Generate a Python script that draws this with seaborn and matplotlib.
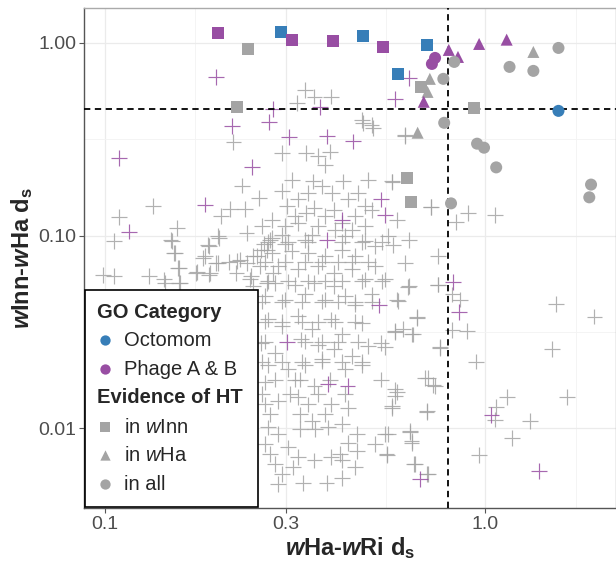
import matplotlib
matplotlib.use("Agg")
import matplotlib.pyplot as plt
from matplotlib.patches import Rectangle
import pandas as pd
import seaborn as sns

# genes with no evidence of HT (crosses): (wHa-wRi ds, wInn-wHa ds)
grey_crosses = [
    (0.218, 0.305), (0.230, 0.182), (0.254, 0.157), (0.134, 0.143), (0.109, 0.125),
    (0.202, 0.127), (0.214, 0.138), (0.234, 0.138), (0.155, 0.109), (0.200, 0.0975),
    (0.236, 0.103), (0.106, 0.0935), (0.149, 0.0953), (0.188, 0.088), (0.152, 0.0815),
    (0.196, 0.0723), (0.184, 0.078), (0.257, 0.0846), (0.223, 0.0737), (0.237, 0.0723),
    (0.157, 0.068), (0.175, 0.0646), (0.188, 0.0628), (0.106, 0.0615), (0.131, 0.062),
    (0.143, 0.0592), (0.158, 0.0569), (0.212, 0.0727), (0.262, 0.0906), (0.252, 0.078),
    (0.242, 0.0615), (0.099, 0.0625),
    (0.478, 0.383), (0.508, 0.361), (0.616, 0.334), (0.292, 0.268), (0.339, 0.268),
    (0.364, 0.258), (0.391, 0.273), (0.380, 0.233), (0.353, 0.191), (0.372, 0.180),
    (0.424, 0.191), (0.493, 0.195), (0.568, 0.191), (0.292, 0.170), (0.301, 0.142),
    (0.323, 0.154), (0.339, 0.131), (0.356, 0.139), (0.401, 0.136), (0.437, 0.154),
    (0.464, 0.166), (0.483, 0.142), (0.455, 0.126), (0.503, 0.136), (0.587, 0.121),
    (0.719, 0.141), (0.275, 0.121), (0.298, 0.112), (0.323, 0.116), (0.364, 0.112),
    (0.446, 0.107), (0.483, 0.112), (0.556, 0.0993), (0.630, 0.0953), (0.275, 0.0975),
    (0.298, 0.0906), (0.336, 0.0953), (0.428, 0.0993), (0.483, 0.0935), (0.513, 0.088),
    (0.574, 0.0898), (0.275, 0.0815), (0.310, 0.083), (0.343, 0.0815), (0.380, 0.078),
    (0.420, 0.0846), (0.455, 0.078), (0.513, 0.0693), (0.616, 0.0723), (0.753, 0.078),
    (0.286, 0.0693), (0.323, 0.0667), (0.364, 0.0693), (0.401, 0.064), (0.446, 0.0667),
    (0.483, 0.0592), (0.545, 0.0592), (0.630, 0.0546), (0.280, 0.0569), (0.316, 0.0557),
    (0.356, 0.0569), (0.401, 0.0546), (0.753, 0.0557),
    (0.336, 0.571), (0.356, 0.527), (0.394, 0.527), (0.320, 0.487), (0.474, 0.399),
    (0.503, 0.376),
    (0.264, 0.0486), (0.298, 0.0466), (0.336, 0.0495), (0.380, 0.0466), (0.428, 0.0486),
    (0.455, 0.0439), (0.503, 0.0495), (0.592, 0.0457), (0.661, 0.0375), (0.580, 0.0319),
    (0.641, 0.0307), (0.761, 0.0262), (0.269, 0.0367), (0.292, 0.0339), (0.323, 0.0383),
    (0.350, 0.0326), (0.394, 0.0367), (0.420, 0.0307), (0.474, 0.0353), (0.493, 0.0267),
    (0.534, 0.0277), (0.258, 0.0277), (0.280, 0.0247), (0.329, 0.0289), (0.364, 0.0272),
    (0.401, 0.0257), (0.446, 0.0238), (0.372, 0.0228), (0.336, 0.0212), (0.304, 0.0202),
    (0.269, 0.0212), (0.428, 0.0202), (0.474, 0.0212), (0.534, 0.0179), (0.709, 0.0182),
    (0.737, 0.0166), (0.264, 0.0173), (0.316, 0.0179), (0.356, 0.0166), (0.580, 0.0159),
    (0.264, 0.0133), (0.286, 0.0139), (0.323, 0.0145), (0.343, 0.0133), (0.394, 0.0133),
    (0.437, 0.0128), (0.580, 0.0147), (0.568, 0.0128), (0.703, 0.0123), (0.269, 0.0101),
    (0.286, 0.00931), (0.350, 0.0109), (0.387, 0.0101), (0.420, 0.0105), (0.460, 0.00931),
    (0.545, 0.00931), (0.635, 0.00966), (0.641, 0.00838), (0.513, 0.00826), (0.437, 0.00838),
    (0.460, 0.0076), (0.551, 0.00733), (0.651, 0.00651), (0.703, 0.00578), (0.264, 0.00826),
    (0.304, 0.00795), (0.323, 0.0071), (0.356, 0.00681), (0.394, 0.0071), (0.420, 0.00681),
    (0.455, 0.00626), (0.280, 0.00651), (0.292, 0.00578), (0.286, 0.00513), (0.333, 0.00522),
    (0.383, 0.00522), (0.420, 0.00553), (0.313, 0.00626),
    (0.150, 0.0935), (0.153, 0.0815), (0.199, 0.0993), (0.187, 0.0898), (0.181, 0.0765),
    (0.199, 0.0723), (0.156, 0.068), (0.174, 0.064), (0.189, 0.064), (0.144, 0.0569),
    (0.157, 0.0569), (0.227, 0.0751), (0.246, 0.078), (0.222, 0.064), (0.241, 0.0592),
    (0.246, 0.0546), (0.267, 0.0846), (0.256, 0.0693), (0.277, 0.064), (0.272, 0.0953),
    (0.267, 0.0569),
    (0.616, 0.330), (0.571, 0.190), (0.721, 0.141), (0.837, 0.118), (0.900, 0.131),
    (1.06, 0.128), (1.54, 0.0443), (1.94, 0.038), (1.50, 0.0258), (0.945, 0.0222),
    (1.14, 0.0145), (1.64, 0.0145), (1.07, 0.0129), (1.06, 0.0111), (1.31, 0.0109),
    (1.18, 0.0089), (0.966, 0.00725), (0.707, 0.00578), (0.655, 0.00651), (0.859, 0.0466),
    (0.821, 0.0495), (0.662, 0.0377), (0.898, 0.0321), (0.821, 0.0323), (0.761, 0.0263),
    (0.694, 0.0183), (0.730, 0.0167), (0.702, 0.0122), (0.635, 0.00951), (0.641, 0.00862),
    (0.556, 0.00931), (0.552, 0.00728), (0.570, 0.013), (0.586, 0.0154), (0.545, 0.0263),
    (0.586, 0.0466), (0.626, 0.0539), (0.753, 0.0557), (0.609, 0.0326), (0.580, 0.0315),
    (0.647, 0.0307),
    # dense core, second pass
    (0.268, 0.0931), (0.303, 0.0931), (0.342, 0.0931), (0.421, 0.0931), (0.474, 0.0931),
    (0.536, 0.0931),
    (0.264, 0.0733), (0.298, 0.0733), (0.336, 0.0733), (0.373, 0.0733), (0.410, 0.0733),
    (0.447, 0.0733), (0.492, 0.0733),
    (0.268, 0.0578), (0.303, 0.0578), (0.342, 0.0578), (0.380, 0.0578), (0.421, 0.0578),
    (0.474, 0.0578), (0.536, 0.0578),
    (0.259, 0.0455), (0.292, 0.0455), (0.330, 0.0455), (0.373, 0.0455), (0.410, 0.0455),
    (0.455, 0.0455), (0.504, 0.0455),
    (0.264, 0.0358), (0.292, 0.0358), (0.330, 0.0358), (0.364, 0.0358), (0.403, 0.0358),
    (0.455, 0.0358),
    (0.264, 0.0282), (0.336, 0.0282), (0.373, 0.0282), (0.410, 0.0282), (0.463, 0.0282),
    (0.259, 0.0222), (0.292, 0.0222), (0.330, 0.0222), (0.373, 0.0222), (0.421, 0.0222),
    (0.474, 0.0222),
    (0.280, 0.0179), (0.326, 0.0179), (0.391, 0.0179),
    (0.259, 0.0150), (0.307, 0.0150), (0.364, 0.0150), (0.428, 0.0150),
    (0.272, 0.0118), (0.326, 0.0118), (0.380, 0.0118),
    (0.326, 0.00989), (0.357, 0.00989), (0.272, 0.00733), (0.415, 0.00733),
    # upper part of the cloud, second pass
    (0.311, 0.195), (0.342, 0.166), (0.396, 0.166), (0.316, 0.126), (0.380, 0.126),
    (0.421, 0.116), (0.351, 0.101), (0.403, 0.107), (0.259, 0.112), (0.292, 0.101),
]

phage_crosses = [
    (0.196, 0.667), (0.630, 0.659), (0.580, 0.513), (0.277, 0.455), (0.270, 0.390),
    (0.216, 0.371), (0.368, 0.466), (0.109, 0.253), (0.244, 0.227), (0.184, 0.145),
    (0.116, 0.105), (0.305, 0.325), (0.385, 0.327), (0.450, 0.308), (0.534, 0.154),
    (0.545, 0.128), (0.420, 0.121), (0.385, 0.0953), (0.526, 0.0434), (0.302, 0.028),
    (0.387, 0.017), (0.435, 0.0165), (0.674, 0.00544), (0.823, 0.0574), (0.854, 0.040),
    (1.04, 0.0117), (1.39, 0.00602),
]

# genes with evidence of HT
winn_x = [0.198, 0.238, 0.290, 0.310, 0.398, 0.477, 0.539, 0.703, 0.590, 0.678, 0.223, 0.936, 0.624, 0.638]
winn_y = [1.13, 0.931, 1.14, 1.04, 1.02, 1.09, 0.953, 0.977, 0.691, 0.591, 0.466, 0.461, 0.198, 0.150]
winn_go = ["Phage A & B", "Other", "Octomom", "Phage A & B", "Phage A & B", "Octomom", "Phage A & B",
           "Octomom", "Octomom", "Other", "Other", "Other", "Other", "Other"]

wha_x = [0.716, 0.706, 0.690, 0.803, 0.849, 0.965, 1.14, 1.34, 0.665]
wha_y = [0.651, 0.557, 0.495, 0.920, 0.846, 0.988, 1.04, 0.898, 0.342]
wha_go = ["Other", "Other", "Phage A & B", "Phage A & B", "Phage A & B", "Phage A & B",
          "Phage A & B", "Other", "Other"]

all_x = [0.739, 0.725, 0.777, 0.830, 1.56, 1.16, 1.34, 1.56, 0.781, 0.953, 0.994, 1.07, 0.814, 1.90, 1.88]
all_y = [0.836, 0.778, 0.651, 0.797, 0.942, 0.751, 0.716, 0.444, 0.385, 0.300, 0.286, 0.226, 0.147, 0.184, 0.158]
all_go = ["Phage A & B", "Phage A & B", "Other", "Other", "Other", "Other", "Other", "Octomom",
          "Other", "Other", "Other", "Other", "Other", "Other", "Other"]

# cutoffs shown as dashed lines
ds_cut_x = 0.8
ds_cut_y = 0.455

x_ticks = [0.1, 0.3, 1.0]
x_tick_labels = ["0.1", "0.3", "1.0"]
y_ticks = [0.01, 0.1, 1.0]
y_tick_labels = ["0.01", "0.10", "1.00"]

BLUE = "#377EB8"
PURPLE = "#984EA3"
GREY = "#A4A4A4"
palette = {"Octomom": BLUE, "Phage A & B": PURPLE, "Other": GREY}


def main() -> None:
    sns.set_theme(style="white")
    plt.rcParams["font.family"] = ["Liberation Sans", "DejaVu Sans"]
    plt.rcParams["mathtext.fontset"] = "custom"
    plt.rcParams["mathtext.rm"] = "Liberation Sans"
    plt.rcParams["mathtext.it"] = "Liberation Sans:italic"
    plt.rcParams["mathtext.bf"] = "Liberation Sans:bold"
    plt.rcParams["mathtext.bfit"] = "Liberation Sans:italic:bold"

    crosses = pd.DataFrame(grey_crosses, columns=["x", "y"]).assign(go="Other")
    crosses = pd.concat([crosses, pd.DataFrame(phage_crosses, columns=["x", "y"]).assign(go="Phage A & B")])

    shapes = pd.concat([
        pd.DataFrame({"x": winn_x, "y": winn_y, "go": winn_go, "ev": "in wInn"}),
        pd.DataFrame({"x": wha_x, "y": wha_y, "go": wha_go, "ev": "in wHa"}),
        pd.DataFrame({"x": all_x, "y": all_y, "go": all_go, "ev": "in all"}),
    ])

    fig = plt.figure(figsize=(6.16, 5.64), dpi=100)
    ax = fig.add_axes([0.136, 0.099, 0.864, 0.887])
    ax.set_xscale("log")
    ax.set_yscale("log")

    sns.scatterplot(data=crosses, x="x", y="y", hue="go", palette=palette, marker="+",
                    s=130, linewidth=0.85, alpha=0.85, legend=False, ax=ax, zorder=2)
    ax.axvline(ds_cut_x, color="black", ls=(0, (3.5, 2.5)), lw=1.3, zorder=3)
    ax.axhline(ds_cut_y, color="black", ls=(0, (3.5, 2.5)), lw=1.3, zorder=3)
    sns.scatterplot(data=shapes, x="x", y="y", hue="go", palette=palette, style="ev",
                    markers={"in wInn": "s", "in wHa": "^", "in all": "o"},
                    s=75, linewidth=0, legend=False, ax=ax, zorder=4)

    ax.set_xlim(0.0881, 2.21)
    ax.set_ylim(0.00385, 1.52)
    ax.set_xticks(x_ticks)
    ax.set_xticklabels(x_tick_labels)
    ax.set_yticks(y_ticks)
    ax.set_yticklabels(y_tick_labels)
    ax.set_xticks([0.173, 0.548, 1.732], minor=True)
    ax.set_yticks([0.0316, 0.316], minor=True)
    ax.tick_params(which="major", bottom=True, left=True, length=3.5, width=0.8,
                   color="#555555", labelsize=14, labelcolor="#4D4D4D", pad=2)
    ax.tick_params(which="minor", length=0)
    ax.grid(which="major", color="#EBEBEB", lw=0.9)
    ax.grid(which="minor", color="#F3F3F3", lw=0.6)
    ax.set_axisbelow(True)
    for side in ["left", "bottom"]:
        ax.spines[side].set_color("#555555")
        ax.spines[side].set_linewidth(1.0)
    for side in ["top", "right"]:
        ax.spines[side].set_color("#AAAAAA")
        ax.spines[side].set_linewidth(1.0)

    ax.set_xlabel(r"$\mathbfit{w}$Ha-$\mathbfit{w}$Ri d$_\mathbf{s}$", fontsize=17,
                  fontweight="bold", labelpad=2)
    ax.set_ylabel(r"$\mathbfit{w}$Inn-$\mathbfit{w}$Ha d$_\mathbf{s}$", fontsize=17,
                  fontweight="bold", labelpad=2)

    # legend box drawn ggplot style inside the panel
    ax.add_patch(Rectangle((0.002, 0.002), 0.325, 0.434, transform=ax.transAxes,
                           facecolor="white", edgecolor="black", lw=1.2, zorder=5))
    ax.text(0.024, 0.392, "GO Category", transform=ax.transAxes, fontsize=14.5,
            fontweight="bold", va="center", zorder=6)
    ax.text(0.024, 0.222, "Evidence of HT", transform=ax.transAxes, fontsize=14.5,
            fontweight="bold", va="center", zorder=6)
    entries = [
        (0.336, "o", BLUE, "Octomom"),
        (0.278, "o", PURPLE, "Phage A & B"),
        (0.162, "s", GREY, r"in $\it{w}$Inn"),
        (0.106, "^", GREY, r"in $\it{w}$Ha"),
        (0.048, "o", GREY, "in all"),
    ]
    for ypos, mk, col, lab in entries:
        ax.scatter([0.0395], [ypos], marker=mk, s=55, color=col, linewidths=0,
                   transform=ax.transAxes, zorder=6, clip_on=False)
        ax.text(0.0752, ypos, lab, transform=ax.transAxes, fontsize=14.5, va="center", zorder=6)

    fig.savefig("out.png", dpi=100)
    plt.close(fig)


if __name__ == "__main__":
    main()
